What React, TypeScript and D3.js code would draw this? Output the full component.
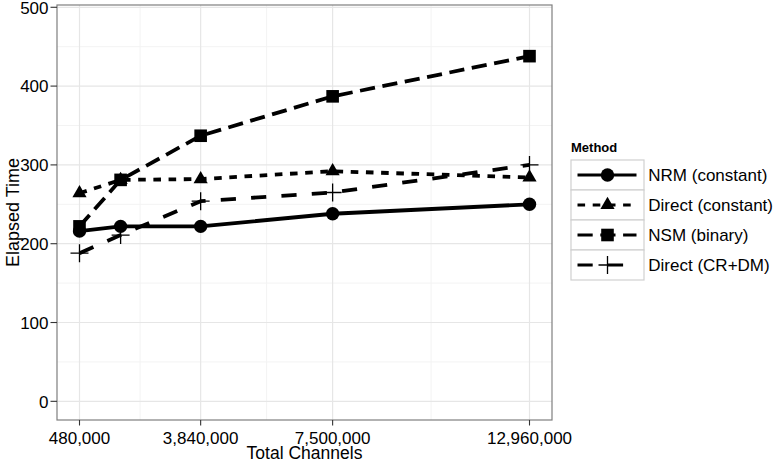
import React from "react";
import * as d3 from "d3";

// data
const channels = [480000, 1620000, 3840000, 7500000, 12960000];
const xTickValues = [480000, 3840000, 7500000, 12960000];
const yTickValues = [0, 100, 200, 300, 400, 500];
const methods = ["NRM (constant)", "Direct (constant)", "NSM (binary)", "Direct (CR+DM)"];
const nrmTimes = [216, 222, 222, 238, 250];
const directConstTimes = [264, 281, 282, 292, 284];
const nsmTimes = [222, 281, 337, 387, 438];
const crdmTimes = [188, 211, 254, 265, 300];

const W = 780;
const H = 461;
const panel = { left: 57, right: 552, top: 5, bottom: 420 };
const font = "'Liberation Sans', Arial, Helvetica, sans-serif";
const lw = 3.8;

const seriesData = [nrmTimes, directConstTimes, nsmTimes, crdmTimes];
const dashes = ["none", `${2 * lw},${2 * lw}`, `${4 * lw},${2 * lw}`, `${4 * lw},${4 * lw}`];
const shapes = ["circle", "triangle", "square", "plus"];

const Marker = ({ shape, x, y }: { shape: string; x: number; y: number }) => {
  if (shape === "circle") return <circle cx={x} cy={y} r={6.7} fill="#000" />;
  if (shape === "square") return <rect x={x - 6.3} y={y - 6.3} width={12.6} height={12.6} fill="#000" />;
  if (shape === "triangle") {
    const r = 8.2;
    const hx = r * 0.866;
    return <path d={`M${x},${y - r}L${x + hx},${y + r / 2}L${x - hx},${y + r / 2}Z`} fill="#000" />;
  }
  return (
    <path d={`M${x - 9},${y}H${x + 9}M${x},${y - 9}V${y + 9}`} stroke="#000" strokeWidth={1.3} fill="none" />
  );
};

export default function App() {
  const x = d3.scaleLinear().domain([-144000, 13584000]).range([panel.left, panel.right]);
  const y = d3.scaleLinear().domain([-23.7, 502.9]).range([panel.bottom, panel.top]);

  // minor breaks sit halfway between the major ones
  const mid = (v: number[]) => d3.pairs(v).map(([a, b]) => (a + b) / 2);
  const xMinor = mid(xTickValues);
  const yMinor = mid(yTickValues);

  const line = d3
    .line<number>()
    .x((_, i) => x(channels[i]))
    .y((d) => y(d));

  const legendX = 571;
  const legendTop = 160;
  const rowH = 30;

  return (
    <svg
      width={W}
      height={H}
      style={{ position: "absolute", left: 0, top: 0, background: "#fff" }}
      fontFamily={font}
    >
      <rect x={panel.left} y={panel.top} width={panel.right - panel.left} height={panel.bottom - panel.top} fill="#fff" />
      {/* minor grid */}
      {xMinor.map((v) => (
        <line key={"xm" + v} x1={x(v)} x2={x(v)} y1={panel.top} y2={panel.bottom} stroke="#f3f3f3" strokeWidth={1} />
      ))}
      {yMinor.map((v) => (
        <line key={"ym" + v} x1={panel.left} x2={panel.right} y1={y(v)} y2={y(v)} stroke="#f3f3f3" strokeWidth={1} />
      ))}
      {/* major grid */}
      {xTickValues.map((v) => (
        <line key={"xg" + v} x1={x(v)} x2={x(v)} y1={panel.top} y2={panel.bottom} stroke="#e6e6e6" strokeWidth={1.2} />
      ))}
      {yTickValues.map((v) => (
        <line key={"yg" + v} x1={panel.left} x2={panel.right} y1={y(v)} y2={y(v)} stroke="#e6e6e6" strokeWidth={1.2} />
      ))}

      {/* lines */}
      {seriesData.map((s, i) => (
        <path
          key={"l" + i}
          d={line(s) || ""}
          fill="none"
          stroke="#000"
          strokeWidth={lw}
          strokeDasharray={dashes[i]}
          strokeLinecap="butt"
          strokeLinejoin="round"
        />
      ))}
      {/* points */}
      {seriesData.map((s, i) =>
        s.map((v, j) => <Marker key={`p${i}-${j}`} shape={shapes[i]} x={x(channels[j])} y={y(v)} />)
      )}

      <rect
        x={panel.left}
        y={panel.top}
        width={panel.right - panel.left}
        height={panel.bottom - panel.top}
        fill="none"
        stroke="#7f7f7f"
        strokeWidth={1.2}
      />

      {/* y axis */}
      {yTickValues.map((v) => (
        <g key={"yt" + v}>
          <line x1={panel.left - 6.5} x2={panel.left} y1={y(v)} y2={y(v)} stroke="#333" strokeWidth={1.1} />
          <text x={48.5} y={y(v) + 6.2} textAnchor="end" fontSize={17} fill="#000">
            {d3.format("d")(v)}
          </text>
        </g>
      ))}
      {/* x axis */}
      {xTickValues.map((v) => (
        <g key={"xt" + v}>
          <line x1={x(v)} x2={x(v)} y1={panel.bottom} y2={panel.bottom + 5.5} stroke="#333" strokeWidth={1.1} />
          <text x={x(v)} y={443.5} textAnchor="middle" fontSize={17} fill="#000">
            {d3.format(",")(v)}
          </text>
        </g>
      ))}
      <text x={(panel.left + panel.right) / 2} y={459} textAnchor="middle" fontSize={17.5} fill="#000">
        Total Channels
      </text>
      <text
        transform={`translate(19,${(panel.top + panel.bottom) / 2}) rotate(-90)`}
        textAnchor="middle"
        fontSize={18}
        fill="#000"
      >
        Elapsed Time
      </text>

      {/* legend */}
      <text x={legendX} y={152.3} fontSize={13} fontWeight="bold" fill="#000">
        Method
      </text>
      {methods.map((m, i) => {
        const cy = legendTop + i * rowH + rowH / 2;
        return (
          <g key={"lg" + m}>
            <rect x={legendX} y={legendTop + i * rowH} width={73} height={rowH} fill="#fff" stroke="#d0d0d0" strokeWidth={1.2} />
            <line
              x1={legendX + 6.5}
              x2={legendX + 65.5}
              y1={cy}
              y2={cy}
              stroke="#000"
              strokeWidth={lw * 0.85}
              strokeDasharray={dashes[i]}
            />
            <Marker shape={shapes[i]} x={legendX + 36.5} y={cy} />
            <text x={648.3} y={cy + 6.3} fontSize={17} fill="#000">
              {m}
            </text>
          </g>
        );
      })}
    </svg>
  );
}
